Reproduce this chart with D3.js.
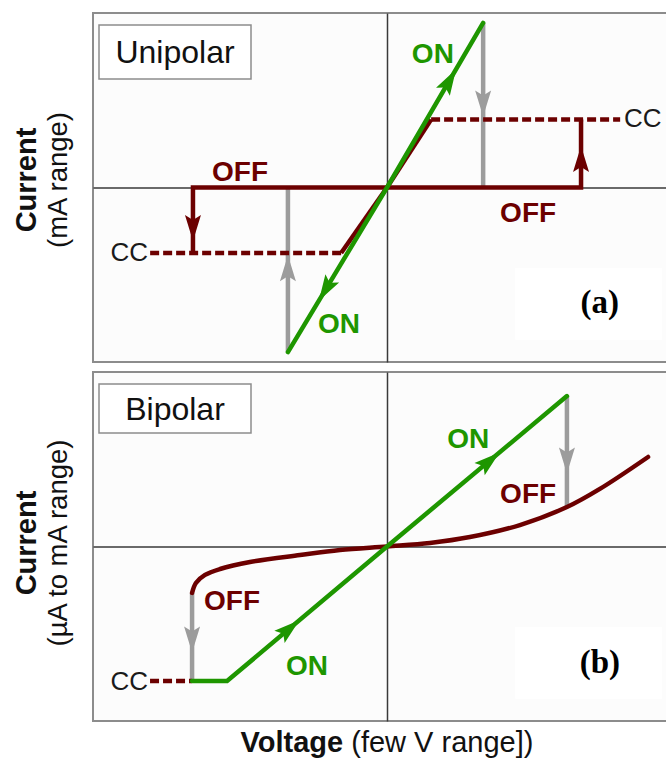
<!DOCTYPE html>
<html>
<head>
<meta charset="utf-8">
<script src="https://cdn.jsdelivr.net/npm/d3@7"></script>
<style>
  body { margin: 0; background: #fff; }
  svg { display: block; }
  text { font-family: "Liberation Sans", Arial, sans-serif; }
</style>
</head>
<body>
<svg id="chart" width="666" height="758"></svg>
<script>
// ---- Unipolar switching (normalised voltage / current units) ----
const uniOn        = [[-0.337, -0.943], [0, 0], [0.327, 0.943]];
const uniResetPos  = [[0, 0], [0.66, 0], [0.66, 0.39]];
const uniSetPos    = [[0, 0], [0.15, 0.39]];
const uniCcPos     = [[0.15, 0.39], [0.793, 0.39]];
const uniResetNeg  = [[0, 0], [-0.66, 0], [-0.66, -0.375]];
const uniSetNeg    = [[0, 0], [-0.156, -0.375]];
const uniCcNeg     = [[-0.156, -0.375], [-0.806, -0.375]];
const uniJumps     = [[[0.327, 0.943], [0.327, 0]], [[-0.337, -0.943], [-0.337, 0]]];

// ---- Bipolar switching ----
const biOn    = [[-0.663, -0.771], [-0.544, -0.771], [0, 0], [0.612, 0.862]];
const biOff   = [[-0.663, -0.266], [-0.650, -0.209], [-0.619, -0.163], [-0.568, -0.129],
                 [-0.466, -0.089], [-0.296, -0.049], [-0.160, -0.020], [0, 0],
                 [0.146, 0.020], [0.282, 0.054], [0.452, 0.123], [0.612, 0.226],
                 [0.724, 0.330], [0.888, 0.513]];
const biCc    = [[-0.806, -0.771], [-0.663, -0.771]];
const biJumps = [[[0.612, 0.862], [0.612, 0.226]], [[-0.663, -0.266], [-0.663, -0.771]]];

// Text annotations: [label, x, y, kind]
const uniLabels = [
  ["ON", 0.156, 0.713, "on"], ["ON", -0.163, -0.834, "on"],
  ["OFF", -0.5, 0.037, "off"], ["OFF", 0.48, -0.198, "off"],
  ["CC", 0.806, 0.347, "ccR"], ["CC", -0.813, -0.421, "ccL"]
];
const biLabels = [
  ["ON", 0.276, 0.564, "on"], ["ON", -0.272, -0.736, "on"],
  ["OFF", 0.48, 0.249, "off"], ["OFF", -0.527, -0.364, "off"],
  ["CC", -0.813, -0.822, "ccL"]
];

const GREEN = "#1e9600", RED = "#6c0000", GRAY = "#9c9c9c";

const svg = d3.select("#chart");
const x  = d3.scaleLinear().domain([-1, 1]).range([93, 681]);
const yA = d3.scaleLinear().domain([-1, 1]).range([362, 13]);
const yB = d3.scaleLinear().domain([-1, 1]).range([721, 372]);

function arrowHead(g, seg, t, color, len, half) {
  const [p0, p1] = seg;
  const ax = g.sx(p0[0]), ay = g.sy(p0[1]);
  const bx = g.sx(p1[0]), by = g.sy(p1[1]);
  const cx = ax + (bx - ax) * t, cy = ay + (by - ay) * t;
  const ang = Math.atan2(by - ay, bx - ax) * 180 / Math.PI;
  const path = `M${len / 2},0 L${-len / 2},${-half} L${-len / 2 + 5},0 L${-len / 2},${half} Z`;
  g.node.append("path").attr("d", path).attr("fill", color)
    .attr("transform", `translate(${cx},${cy}) rotate(${ang})`);
}

function panel(cfg) {
  const y = cfg.y;
  const g = svg.append("g");
  const [x0, x1] = x.range();
  const [yb, yt] = y.range();

  g.append("rect").attr("x", x0).attr("y", yt).attr("width", x1 - x0).attr("height", yb - yt)
    .attr("fill", "#fcfcfc").attr("stroke", "#8c8c8c").attr("stroke-width", 2);

  // white box behind the panel tag
  g.append("rect").attr("x", x(0.436)).attr("y", y(cfg.tagBox[1])).attr("width", 147).attr("height", 72)
    .attr("fill", "#ffffff");

  // zero axes
  g.append("g").attr("transform", `translate(0,${y(0)})`)
    .call(d3.axisBottom(x).ticks(0).tickSizeOuter(0))
    .call(a => a.select(".domain").attr("stroke", "#3a3a3a").attr("stroke-width", 1.5));
  g.append("g").attr("transform", `translate(${x(0)},0)`)
    .call(d3.axisLeft(y).ticks(0).tickSizeOuter(0))
    .call(a => a.select(".domain").attr("stroke", "#3a3a3a").attr("stroke-width", 1.5));

  // title box
  g.append("rect").attr("x", 99).attr("y", yt + cfg.boxTop).attr("width", 152).attr("height", cfg.boxH)
    .attr("fill", "#fff").attr("stroke", "#8c8c8c").attr("stroke-width", 1.5);
  g.append("text").attr("x", 175).attr("y", yt + cfg.boxTop + cfg.boxH / 2 + 11)
    .attr("text-anchor", "middle").attr("font-size", 32).attr("fill", "#111").text(cfg.title);

  const line = d3.line().x(d => x(d[0])).y(d => y(d[1]));
  const curve = d3.line().x(d => x(d[0])).y(d => y(d[1])).curve(d3.curveCatmullRom.alpha(0.5));
  const ctx = { node: g, sx: x, sy: y };

  // vertical switching jumps
  cfg.jumps.forEach(s => g.append("path").attr("d", line(s)).attr("fill", "none")
    .attr("stroke", GRAY).attr("stroke-width", 4.5));

  cfg.solidRed.forEach(s => g.append("path").attr("d", line(s)).attr("fill", "none")
    .attr("stroke", RED).attr("stroke-width", 4.5).attr("stroke-linejoin", "miter"));
  cfg.dashRed.forEach(s => g.append("path").attr("d", line(s)).attr("fill", "none")
    .attr("stroke", RED).attr("stroke-width", 4.5).attr("stroke-dasharray", "9,4"));
  cfg.curveRed.forEach(s => g.append("path").attr("d", curve(s)).attr("fill", "none")
    .attr("stroke", RED).attr("stroke-width", 4.5).attr("stroke-linecap", "round"));

  g.append("path").attr("d", line(cfg.on)).attr("fill", "none")
    .attr("stroke", GREEN).attr("stroke-width", 4.5).attr("stroke-linecap", "round");

  cfg.arrows.forEach(a => arrowHead(ctx, a.seg, a.t, a.color, a.len || 26, a.half || 8));

  cfg.labels.forEach(([txt, lx, ly, kind]) => {
    const t = g.append("text").attr("x", x(lx)).attr("y", y(ly)).text(txt);
    if (kind === "on" || kind === "off") {
      t.attr("text-anchor", "middle").attr("font-size", 28).attr("font-weight", "bold")
        .attr("fill", kind === "on" ? GREEN : RED);
    } else {
      t.attr("text-anchor", kind === "ccR" ? "start" : "end").attr("font-size", 26).attr("fill", "#1a1a1a");
    }
  });

  g.append("text").attr("x", x(0.724)).attr("y", y(cfg.tag[1]))
    .attr("text-anchor", "middle").attr("font-size", 33).attr("font-weight", "bold")
    .style("font-family", "'Liberation Serif', 'Times New Roman', serif").text(cfg.tag[0]);

  // y-axis title
  const cy = cfg.titleY;
  g.append("text").attr("transform", `translate(36,${cy}) rotate(-90)`)
    .attr("text-anchor", "middle").attr("font-size", 29).attr("font-weight", "bold").attr("fill", "#111")
    .text("Current");
  g.append("text").attr("transform", `translate(67,${cy}) rotate(-90)`)
    .attr("text-anchor", "middle").attr("font-size", 27.5).attr("fill", "#111")
    .text(cfg.unit);
}

panel({
  y: yA, title: "Unipolar", boxTop: 12, boxH: 54, tag: ["(a)", -0.719], tagBox: [0, -0.46],
  titleY: 180, unit: "(mA range)",
  on: uniOn, jumps: uniJumps,
  solidRed: [uniResetPos, uniSetPos, uniResetNeg, uniSetNeg],
  dashRed: [uniCcPos, uniCcNeg], curveRed: [],
  arrows: [
    { seg: [uniOn[1], uniOn[2]], t: 0.65, color: GREEN },
    { seg: [uniOn[1], uniOn[0]], t: 0.62, color: GREEN },
    { seg: uniJumps[0], t: 0.49, color: GRAY },
    { seg: uniJumps[1], t: 0.51, color: GRAY },
    { seg: [uniResetPos[1], uniResetPos[2]], t: 0.42, color: RED },
    { seg: [uniResetNeg[1], uniResetNeg[2]], t: 0.62, color: RED }
  ],
  labels: uniLabels
});

panel({
  y: yB, title: "Bipolar", boxTop: 12, boxH: 49, tag: ["(b)", -0.725], tagBox: [0, -0.46],
  titleY: 543, unit: "(\u00b5A to mA range)",
  on: biOn, jumps: biJumps,
  solidRed: [], dashRed: [biCc], curveRed: [biOff],
  arrows: [
    { seg: [biOn[1], biOn[2]], t: 0.39, color: GREEN },
    { seg: [biOn[2], biOn[3]], t: 0.57, color: GREEN },
    { seg: biJumps[0], t: 0.58, color: GRAY },
    { seg: biJumps[1], t: 0.53, color: GRAY }
  ],
  labels: biLabels
});

// x-axis title
const xt = svg.append("text").attr("x", x(0)).attr("y", 752).attr("text-anchor", "middle")
  .attr("font-size", 29).attr("fill", "#111");
xt.append("tspan").attr("font-weight", "bold").text("Voltage");
xt.append("tspan").text(" (few V range])");
</script>
</body>
</html>
